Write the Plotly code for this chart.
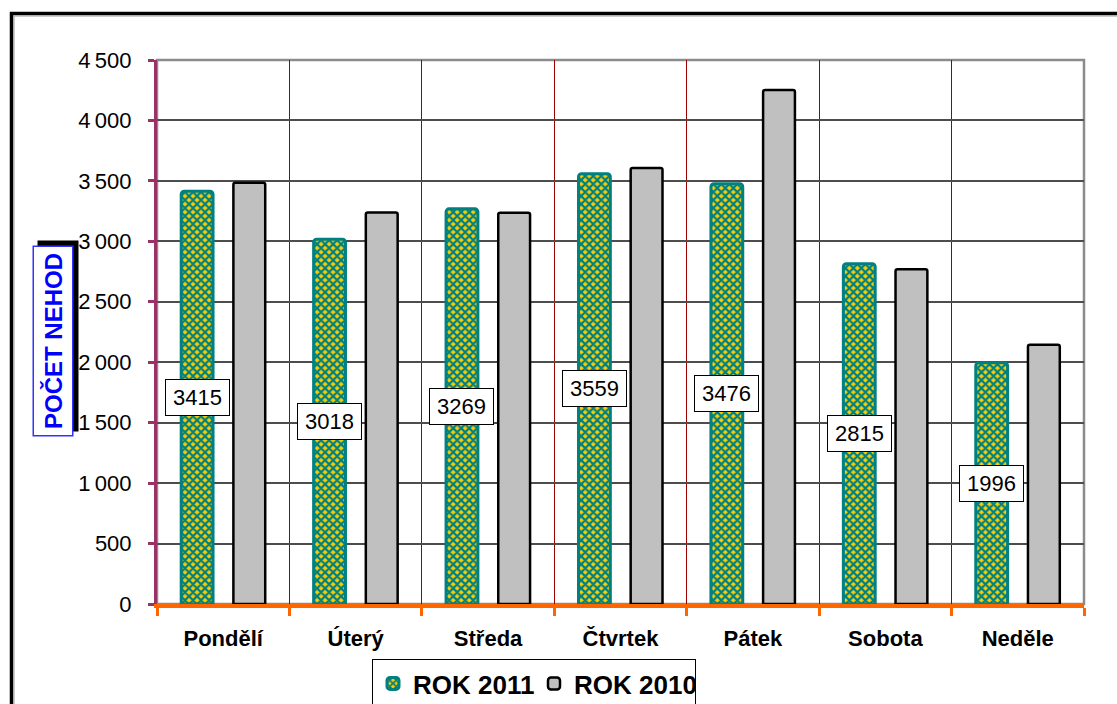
import plotly.graph_objects as go

# Počet nehod podle dne v týdnu
days = ["Pondělí", "Úterý", "Středa", "Čtvrtek", "Pátek", "Sobota", "Neděle"]
rok_2011 = [3415, 3018, 3269, 3559, 3476, 2815, 1996]
rok_2010 = [3485, 3238, 3236, 3606, 4252, 2770, 2145]

y_tick_vals = [0, 500, 1000, 1500, 2000, 2500, 3000, 3500, 4000, 4500]
y_tick_text = ["0", "500", "1\u2009000", "1\u2009500", "2\u2009000", "2\u2009500",
               "3\u2009000", "3\u2009500", "4\u2009000", "4\u2009500"]

FONT = "Liberation Sans, Arial, sans-serif"
W, H = 1117, 704
L, R, T, B = 157, 33, 60, 100
PW, PH = W - L - R, H - T - B

BARGAP = 0.212
BARGROUPGAP = 0.39
half_slot = (1 - BARGAP) / 4  # centre offset of each bar within its group


def px_x(px):
    return (px - L) / PW


def px_y(py):
    return (H - B - py) / PH


fig = go.Figure()

fig.add_trace(go.Bar(
    x=days, y=rok_2011, name="ROK 2011",
    marker=dict(
        color="#008080",
        line=dict(color="#008080", width=3),
        pattern=dict(shape="x", size=5.66, solidity=0.62,
                     fgcolor="#008080", bgcolor="#FFCC00", fillmode="replace"),
        cornerradius=3,
    ),
))
fig.add_trace(go.Bar(
    x=days, y=rok_2010, name="ROK 2010",
    marker=dict(color="#C0C0C0", line=dict(color="#000000", width=2.5), cornerradius=2),
))

annotations = []
# value boxes in the middle of the 2011 bars
for i, v in enumerate(rok_2011):
    annotations.append(dict(
        x=i - half_slot, y=v / 2, xref="x", yref="y", text=str(v), showarrow=False,
        xanchor="center", yanchor="middle",
        font=dict(family=FONT, size=22, color="#000000"),
        bgcolor="#FFFFFF", bordercolor="#000000", borderwidth=1,
        borderpad=3, width=57, height=29,
    ))

# y-axis title: shadow box, then the framed label on top
title_x, title_y = px_x(52.5), px_y(341)
for shadow in (True, False):
    annotations.append(dict(
        x=title_x, y=title_y, xref="paper", yref="paper",
        xanchor="center", yanchor="middle",
        text="<b>POČET NEHOD</b>", textangle=-90, showarrow=False,
        font=dict(family=FONT, size=24, color="#000000" if shadow else "#0000FF"),
        bgcolor="#000000" if shadow else "#FFFFFF",
        bordercolor="#000000" if shadow else "#3333FF", borderwidth=1.5,
        borderpad=2, width=184, height=34,
        xshift=5 if shadow else 0, yshift=5 if shadow else 0,
    ))

shapes = [
    # outer frame
    dict(type="rect", xref="paper", yref="paper",
         x0=px_x(11.5), y0=px_y(720), x1=px_x(1130), y1=px_y(13.5),
         line=dict(color="#000000", width=3.5), layer="below"),
    dict(type="rect", xref="paper", yref="paper",
         x0=px_x(14), y0=px_y(720), x1=px_x(1130), y1=px_y(16),
         line=dict(color="#9a9a9a", width=1), layer="below"),
    # plot area border
    dict(type="rect", xref="paper", yref="paper", x0=0, y0=0, x1=1, y1=1,
         line=dict(color="#8c8c8c", width=2.5), layer="below"),
]

fig.update_layout(
    width=W, height=H,
    margin=dict(l=L, r=R, t=T, b=B, autoexpand=False),
    paper_bgcolor="#FFFFFF", plot_bgcolor="#FFFFFF",
    barmode="group", bargap=BARGAP, bargroupgap=BARGROUPGAP,
    font=dict(family=FONT, color="#000000"),
    showlegend=True,
    legend=dict(
        orientation="h", x=px_x(372), y=px_y(659), xanchor="left", yanchor="top",
        bordercolor="#000000", borderwidth=1, bgcolor="#FFFFFF",
        font=dict(family=FONT, size=26, color="#000000", weight="bold"),
        itemwidth=30, traceorder="normal", entrywidth=116,
    ),
    annotations=annotations,
    shapes=shapes,
    xaxis=dict(
        type="category", showline=True, linecolor="#FF6600", linewidth=4,
        ticks="outside", tickson="boundaries", ticklen=8, tickwidth=3, tickcolor="#FF6600",
        showgrid=True, gridcolor="#990000", gridwidth=1,
        tickfont=dict(family=FONT, size=22, color="#000000", weight="bold"),
        ticklabelstandoff=12,
    ),
    yaxis=dict(
        range=[0, 4500], tickvals=y_tick_vals, ticktext=y_tick_text,
        showline=True, linecolor="#993366", linewidth=3,
        ticks="outside", ticklen=6, tickwidth=3, tickcolor="#993366",
        showgrid=True, gridcolor="#4d4d4d", gridwidth=1.5, zeroline=False,
        tickfont=dict(family=FONT, size=22, color="#000000"),
        ticklabelstandoff=12,
    ),
)

fig.write_html("out.html")
